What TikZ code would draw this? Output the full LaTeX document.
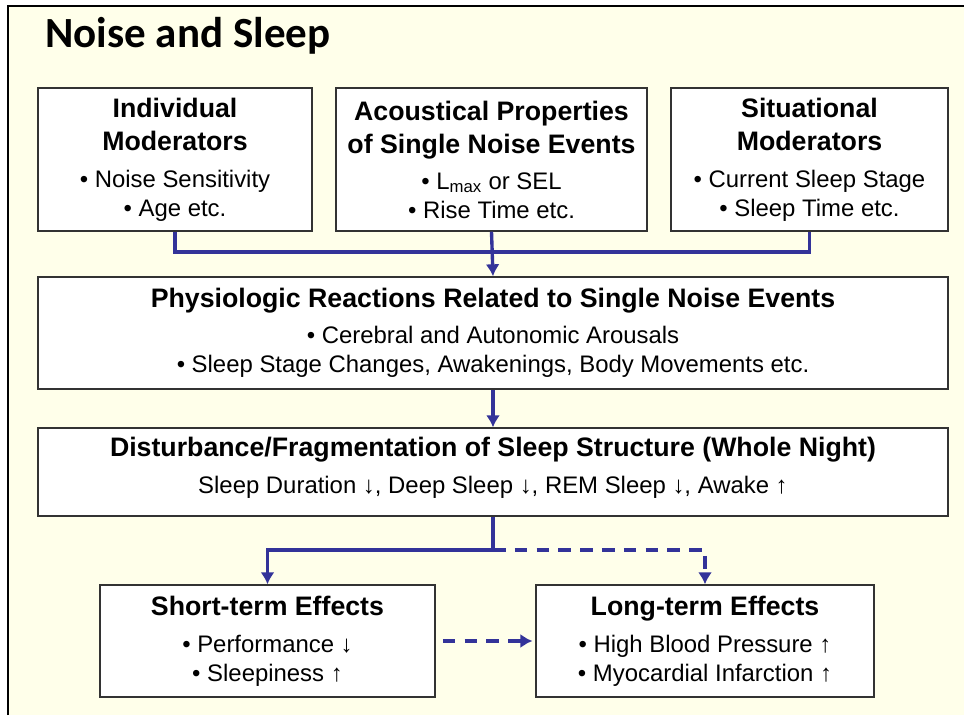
\documentclass[tikz,border=0pt]{standalone}
\usepackage{fontspec}
\usetikzlibrary{arrows.meta}
\setmainfont{Liberation Sans}
\newfontfamily\titlefont{Carlito}
\newcommand{\boxhead}[1]{{\fontsize{19}{20.6}\selectfont\bfseries #1}}
\definecolor{slidebg}{RGB}{255,255,234}
\definecolor{arrowblue}{RGB}{51,51,153}

\begin{document}
\begin{tikzpicture}[x=0.025cm,y=-0.025cm]
		\tikzstyle {box} = [draw=black!80, line width=1pt, fill=white, align=center, inner sep=0pt, font=\fontsize{17}{20.6}\selectfont]
		\tikzstyle {link} = [arrowblue, line width=2.4pt]
		\tikzstyle {maybe link} = [link, dash pattern=on 9pt off 6.5pt]
		\tikzstyle {tip} = [-{Latex[length=8.5pt,width=10pt]}]

		\useasboundingbox (0,0) rectangle (964,715);
		\fill[slidebg] (8,6) rectangle (964,715);
		\draw[line width=1.5pt] (8,715) -- (8,6) -- (964,6);

		\node[anchor=base west, inner sep=0pt, font=\titlefont\fontsize{30.6}{36}\selectfont\bfseries] (title) at (45,48) {Noise and Sleep};

		\node[box, minimum width=6.85cm, minimum height=3.575cm] (indiv) at (175,159.5)
			{\boxhead{Individual}\\[2.9pt]\boxhead{Moderators}\\[5.7pt]• Noise Sensitivity\\• Age etc.};
		\node[box, minimum width=7.775cm, minimum height=3.575cm] (acoust) at (491.5,159.5)
			{\boxhead{Acoustical Properties}\\[2.9pt]\boxhead{of Single Noise Events}\\[5pt]• L\textsubscript{max} or SEL\\• Rise Time etc.};
		\node[box, minimum width=6.925cm, minimum height=3.575cm] (situ) at (809.5,159.5)
			{\boxhead{Situational}\\[2.9pt]\boxhead{Moderators}\\[5.7pt]• Current Sleep Stage\\• Sleep Time etc.};

		\node[box, minimum width=22.75cm, minimum height=2.8cm] (physio) at (493,333)
			{\boxhead{Physiologic Reactions Related to Single Noise Events}\\[5.2pt]• Cerebral and Autonomic Arousals\\• Sleep Stage Changes, Awakenings, Body Movements etc.};
		\node[box, minimum width=22.75cm, minimum height=2.2cm] (disturb) at (493,472)
			{\boxhead{Disturbance/Fragmentation of Sleep Structure (Whole Night)}\\[6pt]Sleep Duration ↓, Deep Sleep ↓, REM Sleep ↓, Awake ↑\\[-11pt]};

		\node[box, minimum width=8.375cm, minimum height=2.8cm] (short) at (267.5,641)
			{\boxhead{Short-term Effects}\\[5.7pt]• Performance ↓\\• Sleepiness ↑};
		\node[box, minimum width=8.45cm, minimum height=2.8cm] (long) at (705,641)
			{\boxhead{Long-term Effects}\\[5.7pt]• High Blood Pressure ↑\\• Myocardial Infarction ↑};

		\coordinate (join) at (491.5,252);
		\coordinate (split) at (493,550);

		\draw[link] (indiv.south) |- (join) -| (situ.south);
		\draw[link,tip] (acoust.south) -- (physio.north);
		\draw[link,tip] (physio.south) -- (disturb.north);
		\draw[link,tip] (disturb.south) -- (split) -| (short.north);
		\draw[maybe link,tip] (split) -| (long.north);
		\draw[maybe link,tip,shorten <=5pt,shorten >=2pt] (short.east) -- (long.west);
	\end{tikzpicture}
\end{document}
